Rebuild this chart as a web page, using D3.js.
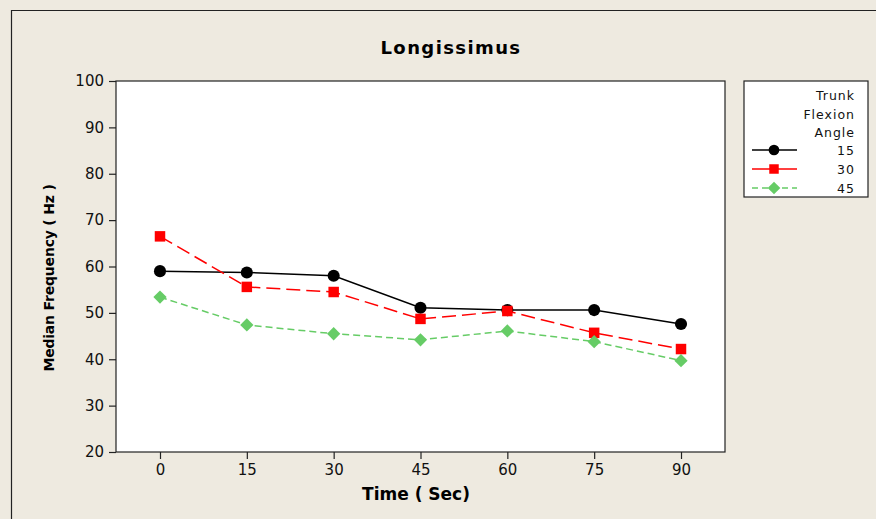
<!DOCTYPE html>
<html>
<head>
<meta charset="utf-8">
<script src="https://cdn.jsdelivr.net/npm/d3@7"></script>
<style>
  body { margin: 0; background: #fff; }
  svg { display: block; font-family: "DejaVu Sans", Verdana, sans-serif; }
</style>
</head>
<body>
<svg id="chart" width="876" height="519"></svg>
<script>
const times = [0, 15, 30, 45, 60, 75, 90];
const angle15 = [59.0, 58.7, 58.0, 51.1, 50.6, 50.6, 47.6];
const angle30 = [66.5, 55.6, 54.5, 48.7, 50.4, 45.7, 42.2];
const angle45 = [53.4, 47.4, 45.5, 44.2, 46.1, 43.8, 39.7];
const seriesNames = ["15", "30", "45"];
const yTicks = [20, 30, 40, 50, 60, 70, 80, 90, 100];

const series = [
  { name: seriesNames[0], values: angle15, color: "#000000", dash: null, shape: d3.symbolCircle, size: 115, rot: 0 },
  { name: seriesNames[1], values: angle30, color: "#ff0000", dash: "14,6", shape: d3.symbolSquare, size: 110, rot: 0 },
  { name: seriesNames[2], values: angle45, color: "#66cc66", dash: "7,4", shape: d3.symbolSquare, size: 88, rot: 45 },
];

const svg = d3.select("#chart");

// panel background
svg.append("rect").attr("x", 0).attr("y", 0).attr("width", 876).attr("height", 519).attr("fill", "#eeeae0");
svg.append("path")
  .attr("d", "M11.5,519 V10.5 H876")
  .attr("fill", "none").attr("stroke", "#222").attr("stroke-width", 1.2);

const plot = { left: 116, top: 81, right: 725, bottom: 452 };

const x = d3.scaleLinear().domain([-7.6, 97.6]).range([plot.left, plot.right]);
const y = d3.scaleLinear().domain([20, 100]).range([plot.bottom, plot.top]);

svg.append("rect")
  .attr("x", plot.left).attr("y", plot.top)
  .attr("width", plot.right - plot.left).attr("height", plot.bottom - plot.top)
  .attr("fill", "#fff").attr("stroke", "#222").attr("stroke-width", 1.2);

const xAxis = svg.append("g")
  .attr("transform", `translate(0,${plot.bottom})`)
  .call(d3.axisBottom(x).tickValues(times).tickSize(7).tickPadding(5).tickFormat(d3.format("d")));
const yAxis = svg.append("g")
  .attr("transform", `translate(${plot.left},0)`)
  .call(d3.axisLeft(y).tickValues(yTicks).tickSize(7).tickPadding(5).tickFormat(d3.format("d")));

[xAxis, yAxis].forEach((a) => {
  a.select(".domain").remove();
  a.selectAll("line").attr("stroke", "#222").attr("stroke-width", 1.2);
  a.selectAll("text").attr("fill", "#111").style("font-size", "15px").style("font-family", "DejaVu Sans, Verdana, sans-serif");
});

// title and axis labels
svg.append("text").attr("x", 451).attr("y", 54).attr("text-anchor", "middle")
  .style("font-size", "18px").style("font-weight", "bold").style("letter-spacing", "1.4px").text("Longissimus");
svg.append("text").attr("x", 416).attr("y", 500).attr("text-anchor", "middle")
  .style("font-size", "17px").style("font-weight", "bold").text("Time ( Sec)");
svg.append("text").attr("transform", "translate(54,278) rotate(-90)").attr("text-anchor", "middle")
  .style("font-size", "14px").style("font-weight", "bold").style("letter-spacing", "-0.2px").text("Median Frequency ( Hz )");

const line = d3.line().x((d, i) => x(times[i])).y((d) => y(d));

series.forEach((s) => {
  svg.append("path")
    .datum(s.values)
    .attr("d", line)
    .attr("fill", "none")
    .attr("stroke", s.color)
    .attr("stroke-width", 1.5)
    .attr("stroke-dasharray", s.dash);
  svg.selectAll(null)
    .data(s.values)
    .join("path")
    .attr("transform", (d, i) => `translate(${x(times[i])},${y(d)}) rotate(${s.rot})`)
    .attr("d", d3.symbol().type(s.shape).size(s.size))
    .attr("fill", s.color);
});

// legend
const lg = svg.append("g").attr("transform", "translate(744,81)");
lg.append("rect").attr("width", 124).attr("height", 116)
  .attr("fill", "#fff").attr("stroke", "#222").attr("stroke-width", 1.2);
["Trunk", "Flexion", "Angle"].forEach((t, i) => {
  lg.append("text").attr("x", 111).attr("y", 19 + i * 18.5).attr("text-anchor", "end")
    .style("font-size", "12.5px").style("letter-spacing", "1px").attr("fill", "#111").text(t);
});
series.forEach((s, i) => {
  const gy = 69 + i * 19;
  lg.append("line").attr("x1", 8).attr("x2", 53).attr("y1", gy).attr("y2", gy)
    .attr("stroke", s.color).attr("stroke-width", 1.5)
    .attr("stroke-dasharray", i === 2 ? "6,4" : null);
  lg.append("path").attr("transform", `translate(30,${gy}) rotate(${s.rot})`)
    .attr("d", d3.symbol().type(s.shape).size(s.rot ? 80 : 90))
    .attr("fill", s.color);
  lg.append("text").attr("x", 111).attr("y", gy + 4.5).attr("text-anchor", "end")
    .style("font-size", "12.5px").style("letter-spacing", "1px").attr("fill", "#111").text(s.name);
});
</script>
</body>
</html>
